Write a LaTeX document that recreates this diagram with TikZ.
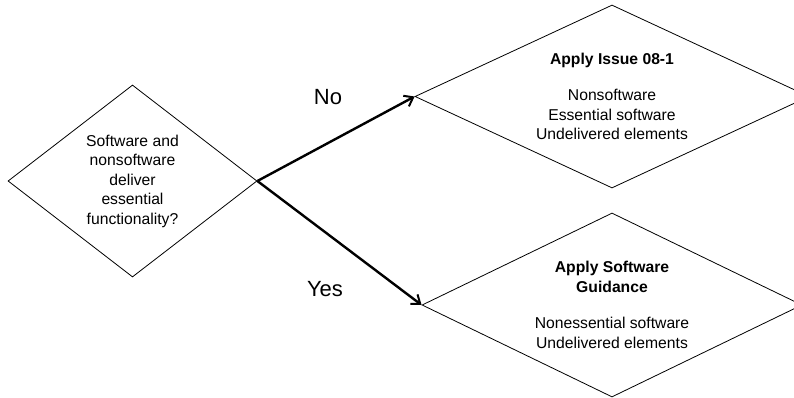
\documentclass[tikz,border=0pt]{standalone}
\usepackage{fontspec}
\setmainfont{Liberation Sans}
\usetikzlibrary{shapes.geometric,arrows.meta}
\tikzset{
  dia/.style={diamond, draw=black, line width=0.8pt, inner sep=0pt, align=center,
    font=\fontsize{15.7}{19.5}\selectfont},
  flow/.style={line width=2.4pt, -{Straight Barb[length=8pt,width=12pt,line width=2pt]}},
  lbl/.style={font=\fontsize{22}{26}\selectfont, inner sep=0pt}
}
\begin{document}
\begin{tikzpicture}[x=1pt,y=-1pt]
\useasboundingbox (0,0) rectangle (794,398);
\clip (0,0) rectangle (794,398);
\node[dia, aspect=1.3, minimum width=249pt, minimum height=192pt] (q) at (132.5,181)
  {Software and\\nonsoftware\\deliver\\essential\\functionality?};
\node[dia, aspect=2.15, minimum width=394pt, minimum height=183pt] (a) at (612,96.5)
  {\textbf{Apply Issue 08-1}\\[17pt]Nonsoftware\\Essential software\\Undelivered elements};
\node[dia, aspect=2.07, minimum width=380pt, minimum height=184pt] (b) at (612,305)
  {\textbf{Apply Software}\\\textbf{Guidance}\\[17pt]Nonessential software\\Undelivered elements};
\draw[flow] (q.east) -- (a.west);
\draw[flow] (q.east) -- (b.west);
\node[lbl] (no) at (328,97) {No};
\node[lbl] (yes) at (325,289) {Yes};
\end{tikzpicture}
\end{document}
